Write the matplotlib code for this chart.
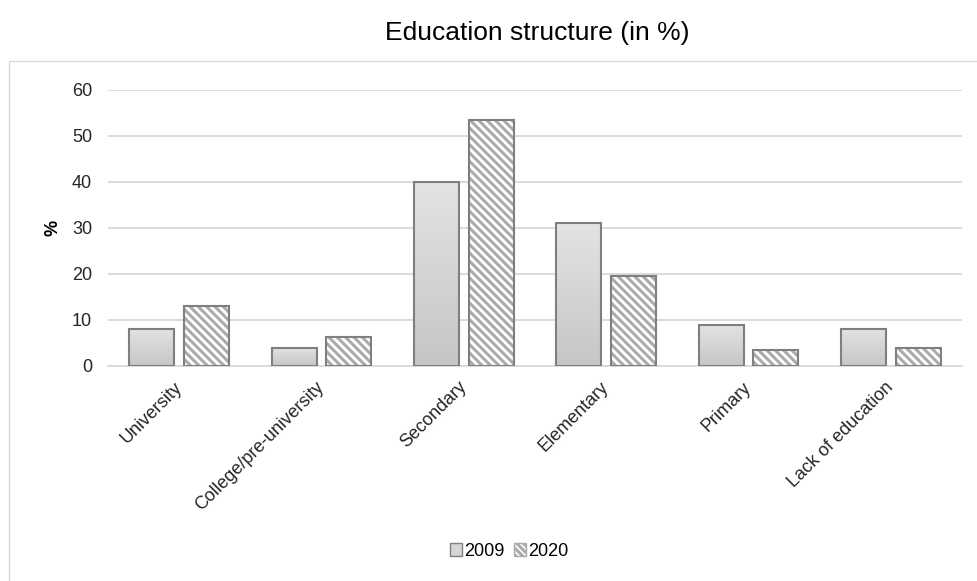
import matplotlib
matplotlib.use("Agg")
import matplotlib.pyplot as plt
import numpy as np
from matplotlib.patches import Patch, Rectangle
from matplotlib.colors import LinearSegmentedColormap
from matplotlib.transforms import ScaledTranslation

plt.rcParams['font.family'] = ['Liberation Sans', 'DejaVu Sans']
plt.rcParams['hatch.linewidth'] = 2.2

categories = ["University", "College/pre-university", "Secondary",
              "Elementary", "Primary", "Lack of education"]
values_2009 = [8, 4, 40, 31, 9, 8]
values_2020 = [13, 6.3, 53.5, 19.6, 3.4, 4]
series_labels = ["2009", "2020"]
y_ticks = [0, 10, 20, 30, 40, 50, 60]

W, H = 978, 581
fig = plt.figure(figsize=(W / 100, H / 100), dpi=100)
fig.patch.set_facecolor("white")

# outer chart frame (runs past the right and bottom edges)
frame = Rectangle((9 / W, -0.2), 1.5, 0.2 + (H - 60.5) / H,
                  transform=fig.transFigure, fill=False,
                  edgecolor="#d9d9d9", linewidth=1.0)
fig.add_artist(frame)

ax = fig.add_axes([108 / W, (H - 366) / H, (962 - 108) / W, (366 - 89.7) / H])

x = np.arange(len(categories))
bw = 0.316
off = 0.193
edge = "#7f7f7f"
hatch_grey = "#ababab"

grad = LinearSegmentedColormap.from_list("g", ["#c6c6c6", "#e3e3e3"])

bars09 = ax.bar(x - off, values_2009, bw, color="#d6d6d6", edgecolor=edge,
                linewidth=1.5, zorder=3)
# vertical gradient inside each 2009 bar
for b in bars09:
    x0, y0 = b.get_x(), b.get_y()
    img = ax.imshow(np.linspace(0, 1, 100).reshape(-1, 1), cmap=grad,
                    extent=[x0, x0 + b.get_width(), y0, y0 + b.get_height()],
                    origin="lower", aspect="auto", zorder=3.5)
    img.set_clip_path(b)
    b.set_facecolor("none")
    b.set_zorder(4)

ax.bar(x + off, values_2020, bw, color="white", edgecolor=hatch_grey,
       hatch="\\\\\\\\", linewidth=0, zorder=3)
ax.bar(x + off, values_2020, bw, fill=False, edgecolor=edge,
       linewidth=1.5, zorder=4)

ax.set_xlim(-0.5, len(categories) - 0.5)
ax.set_ylim(0, 60)
ax.set_yticks(y_ticks)
ax.set_yticklabels([str(t) for t in y_ticks], fontsize=13, color="#262626")
ax.yaxis.grid(True, color="#d9d9d9", linewidth=1.3, zorder=0)
ax.set_axisbelow(True)
ax.tick_params(axis="y", length=0, pad=11.5)
ax.tick_params(axis="x", length=0, pad=4)
ax.set_xticks(x)
ax.set_xticklabels(categories, rotation=45, ha="right", va="top",
                   rotation_mode="anchor", fontsize=13, color="#262626")
shift = ScaledTranslation(-0.06, -0.07, fig.dpi_scale_trans)
for lbl in ax.get_xticklabels():
    lbl.set_transform(lbl.get_transform() + shift)
for s in ["top", "right", "left"]:
    ax.spines[s].set_visible(False)
ax.spines["bottom"].set_color("#d9d9d9")
ax.spines["bottom"].set_linewidth(1.3)

ax.set_ylabel("%", fontsize=13, fontweight="bold")
ax.yaxis.set_label_coords(-46 / (962 - 108), 0.5)

fig.text(537 / W, 1 - 33 / H, "Education structure (in %)", ha="center",
         va="center", fontsize=19, color="#000000")

handles = [Patch(facecolor="#d6d6d6", edgecolor=edge, linewidth=1.0),
           Patch(facecolor="white", edgecolor=hatch_grey, hatch="\\\\\\\\\\",
                 linewidth=1.0)]
fig.legend(handles, series_labels, loc="center", bbox_to_anchor=(509 / W, 1 - 551 / H),
           ncol=2, frameon=False, fontsize=13, handlelength=0.7,
           handleheight=0.7, handletextpad=0.1, columnspacing=0.5)

fig.savefig("out.png", dpi=100, facecolor="white")
